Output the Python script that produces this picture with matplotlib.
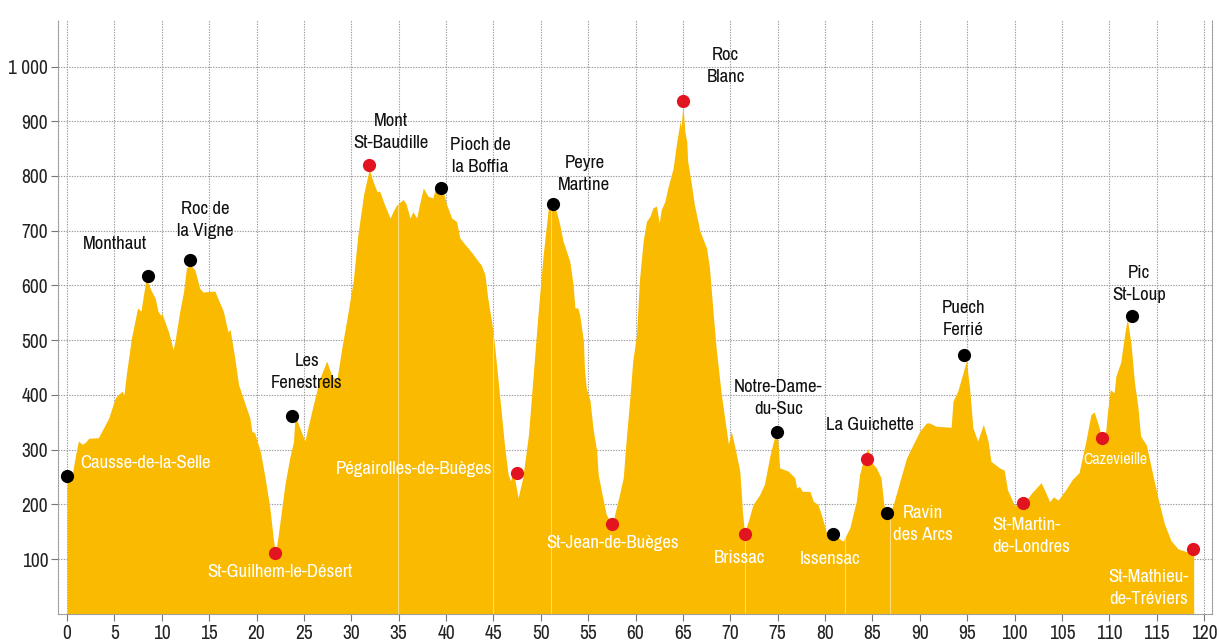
import numpy as np
import matplotlib
matplotlib.use('Agg')
import matplotlib.pyplot as plt
from matplotlib.ticker import FuncFormatter

plt.rcParams['font.family'] = ['Archivo Narrow', 'Liberation Sans', 'DejaVu Sans']

# elevation profile (km, m)
dist = [0.0, 0.4, 0.9, 1.2, 1.6, 1.9, 2.3, 3.3, 3.8, 4.4, 5.1, 5.5, 5.8, 6.0, 6.3, 6.8, 7.45, 7.8, 8.0, 8.3,
        8.5, 8.9, 9.3, 9.6, 9.9, 10.0, 10.3, 10.7, 11.2, 11.4, 11.9, 12.3, 12.6, 13.0, 13.5, 14.0, 14.35, 15.6, 15.9, 16.5,
        16.8, 17.0, 17.2, 17.7, 18.1, 18.8, 19.3, 19.5, 19.8, 20.4, 20.9, 21.4, 21.8, 22.0, 22.3, 23.0, 23.5, 23.9, 24.05, 24.3,
        25.1, 26.0, 26.7, 27.4, 27.9, 28.45, 29.0, 29.5, 30.2, 30.7, 31.3, 31.6, 31.9, 32.3, 32.7, 33.0, 33.5, 34.1, 34.4, 34.8,
        35.5, 35.8, 36.2, 36.5, 36.9, 37.2, 37.6, 38.1, 38.6, 38.9, 39.35, 39.6, 40.05, 40.6, 41.1, 41.45, 42.0, 42.3, 42.9, 43.4,
        43.7, 44.1, 44.4, 44.8, 45.15, 45.5, 45.85, 46.2, 46.55, 46.8, 47.1, 47.6, 48.1, 48.7, 49.2, 49.7, 50.25, 50.8, 51.1, 51.65,
        52.0, 52.35, 53.06, 53.4, 53.6, 53.9, 54.1, 54.5, 54.6, 54.8, 55.2, 55.5, 55.9, 56.05, 56.4, 56.9, 57.3, 57.55, 57.8, 58.3,
        58.7, 59.0, 59.4, 59.7, 60.1, 60.4, 60.8, 61.15, 61.5, 61.85, 62.2, 62.5, 62.7, 63.1, 63.4, 63.96, 64.3, 64.7, 64.8, 65.0,
        65.2, 65.4, 65.5, 65.9, 66.2, 66.8, 67.5, 67.8, 68.2, 68.5, 69.05, 69.4, 69.8, 70.1, 70.5, 71.0, 71.3, 71.5, 71.9, 72.4,
        73.1, 73.6, 74.2, 74.7, 75.0, 75.2, 76.1, 76.8, 77.0, 77.3, 77.6, 78.4, 78.75, 79.25, 79.6, 80.1, 80.8, 81.9, 82.6, 83.3,
        83.65, 84.0, 84.5, 84.8, 85.4, 85.9, 86.2, 86.6, 87.2, 87.9, 88.6, 89.3, 90.0, 90.7, 91.0, 91.7, 93.3, 93.5, 94.0, 94.5,
        94.9, 95.25, 95.6, 96.1, 96.7, 97.2, 97.5, 98.4, 98.9, 99.25, 99.97, 100.9, 101.8, 102.8, 103.3, 103.7, 104.1, 104.6, 105.4, 106.1,
        106.8, 107.5, 108.05, 108.4, 108.95, 109.2, 109.6, 109.8, 110.1, 110.5, 110.7, 111.2, 111.6, 111.9, 112.3, 112.65, 113.0, 113.3, 113.9, 114.4,
        115.1, 115.8, 116.5, 117.25, 118.3, 118.9]
elev = [250, 240, 290, 316, 310, 313, 321, 322, 338, 358, 395, 402, 407, 400, 443, 504, 559, 553, 575, 608,
        606, 590, 577, 553, 545, 550, 535, 516, 483, 499, 553, 589, 632, 638, 628, 595, 588, 590, 577, 553,
        529, 515, 520, 468, 419, 383, 358, 334, 331, 297, 249, 194, 133, 112, 145, 237, 285, 315, 358, 352,
        316, 383, 431, 462, 437, 425, 486, 535, 608, 693, 766, 790, 812, 790, 772, 772, 748, 723, 735, 748,
        757, 748, 723, 735, 723, 748, 778, 763, 760, 778, 772, 778, 748, 723, 717, 687, 675, 669, 656, 644,
        638, 620, 577, 535, 486, 425, 364, 303, 255, 243, 261, 212, 249, 328, 437, 547, 656, 742, 754, 735,
        711, 681, 644, 602, 559, 559, 547, 498, 449, 413, 389, 340, 297, 255, 224, 182, 170, 162, 182, 218,
        249, 316, 395, 462, 510, 608, 681, 717, 726, 742, 745, 714, 738, 754, 778, 814, 857, 900, 888, 930,
        881, 863, 827, 784, 748, 699, 668, 632, 547, 486, 401, 358, 310, 334, 303, 261, 182, 150, 170, 200,
        218, 237, 291, 325, 320, 267, 261, 249, 230, 233, 224, 224, 206, 200, 182, 151, 145, 133, 157, 206,
        255, 279, 303, 279, 267, 249, 200, 176, 200, 243, 285, 310, 334, 349, 349, 343, 341, 389, 407, 437,
        462, 413, 340, 316, 346, 316, 279, 267, 263, 227, 199, 200, 221, 240, 221, 205, 214, 208, 227, 246,
        258, 314, 364, 369, 339, 318, 330, 368, 410, 404, 435, 460, 509, 540, 491, 423, 380, 325, 309, 269,
        214, 165, 134, 119, 113, 110]

# points along the route
pt_km = [0.0, 8.5, 13.0, 22.0, 23.75, 31.9, 39.5, 47.5, 51.3, 57.55, 65.0, 71.5, 74.96, 80.8, 84.45, 86.5, 94.7, 100.9, 109.2, 112.4, 118.8]
pt_m = [252, 618, 647, 111, 361, 821, 778, 258, 749, 164, 937, 147, 333, 147, 284, 184, 473, 203, 321, 545, 118]
pt_red = [0, 0, 0, 1, 0, 1, 0, 1, 0, 1, 1, 1, 0, 0, 1, 0, 0, 1, 1, 0, 1]

# labels: text, km, m, white?
lab_txt = ['Causse-de-la-Selle', 'Monthaut', 'Roc de\nla Vigne', 'St-Guilhem-le-Désert', 'Les\nFenestrels',
           'Mont\nSt-Baudille', 'Pioch de\nla Boffia', 'Pégairolles-de-Buèges', 'Peyre\nMartine', 'St-Jean-de-Buèges',
           'Roc\nBlanc', 'Brissac', 'Notre-Dame-\ndu-Suc', 'Issensac', 'La Guichette', 'Ravin\ndes Arcs',
           'Puech\nFerrié', 'St-Martin-\nde-Londres', 'Cazevieille', 'Pic\nSt-Loup', 'St-Mathieu-\nde-Tréviers']
lab_km = [8.26, 5.06, 14.56, 22.5, 25.3, 34.2, 43.6, 36.6, 54.6, 57.6, 69.5, 71.0, 75.07, 80.5, 84.7, 90.3,
          94.6, 97.6, 110.6, 113.15, 114.1]
lab_m = [276, 676, 719, 77, 442, 880, 837, 264, 803, 130, 1001, 103, 395, 100, 346, 165, 539, 142, 282, 603, 47]
lab_white = [1, 0, 0, 1, 0, 0, 0, 1, 0, 1, 0, 1, 0, 1, 0, 1, 0, 1, 1, 0, 1]

# faint section breaks inside the profile
breaks = [34.9, 45.0, 51.1, 71.5, 82.1, 86.8]

yellow = '#F9BA00'
red = '#E2141F'

fig = plt.figure(figsize=(12.19, 6.44), dpi=100)
ax = fig.add_axes([0.0476, 0.0466, 0.9464, 0.9224])

poly = ax.fill_between(dist, 0, elev, color=yellow, lw=0, zorder=2)
for b in breaks:
    ln = ax.axvline(b, color='white', lw=0.8, alpha=0.5, zorder=2.5)
    ln.set_clip_path(poly.get_paths()[0], poly.get_transform())

for k, m, r in zip(pt_km, pt_m, pt_red):
    ax.plot(k, m, 'o', ms=9.5, color=red if r else 'black', mec='none', zorder=4)

for t, k, m, w, in zip(lab_txt, lab_km, lab_m, lab_white):
    ha = 'center'
    ma = 'center'
    if t.startswith('St-Martin'):
        ha = 'left'
        ma = 'left'
    fs = 11.5 if t == 'Cazevieille' else 13.5
    ax.text(k, m, t, ha=ha, va='center', multialignment=ma, fontsize=fs,
            color='white' if w else '#111111', linespacing=1.45, zorder=5)

ax.set_xlim(-0.95, 120.8)
ax.set_ylim(0, 1085)
ax.set_xticks(np.arange(0, 121, 5))
ax.set_yticks(np.arange(100, 1001, 100))
ax.yaxis.set_major_formatter(FuncFormatter(lambda v, p: '{:,}'.format(int(v)).replace(',', ' ')))
ax.grid(True, color='#9a9a9a', lw=0.8, ls=(0, (1.2, 1.2)), zorder=0)
ax.set_axisbelow(True)
ax.tick_params(axis='both', colors='#777777', labelcolor='#222222', labelsize=14, length=5, width=0.8, pad=2)
for s in ['left', 'bottom', 'right']:
    ax.spines[s].set_color('#9a9a9a')
    ax.spines[s].set_linestyle((0, (1.2, 1.2)))
    ax.spines[s].set_linewidth(0.8)
ax.spines['top'].set_visible(False)

plt.savefig('out.png', dpi=100)
